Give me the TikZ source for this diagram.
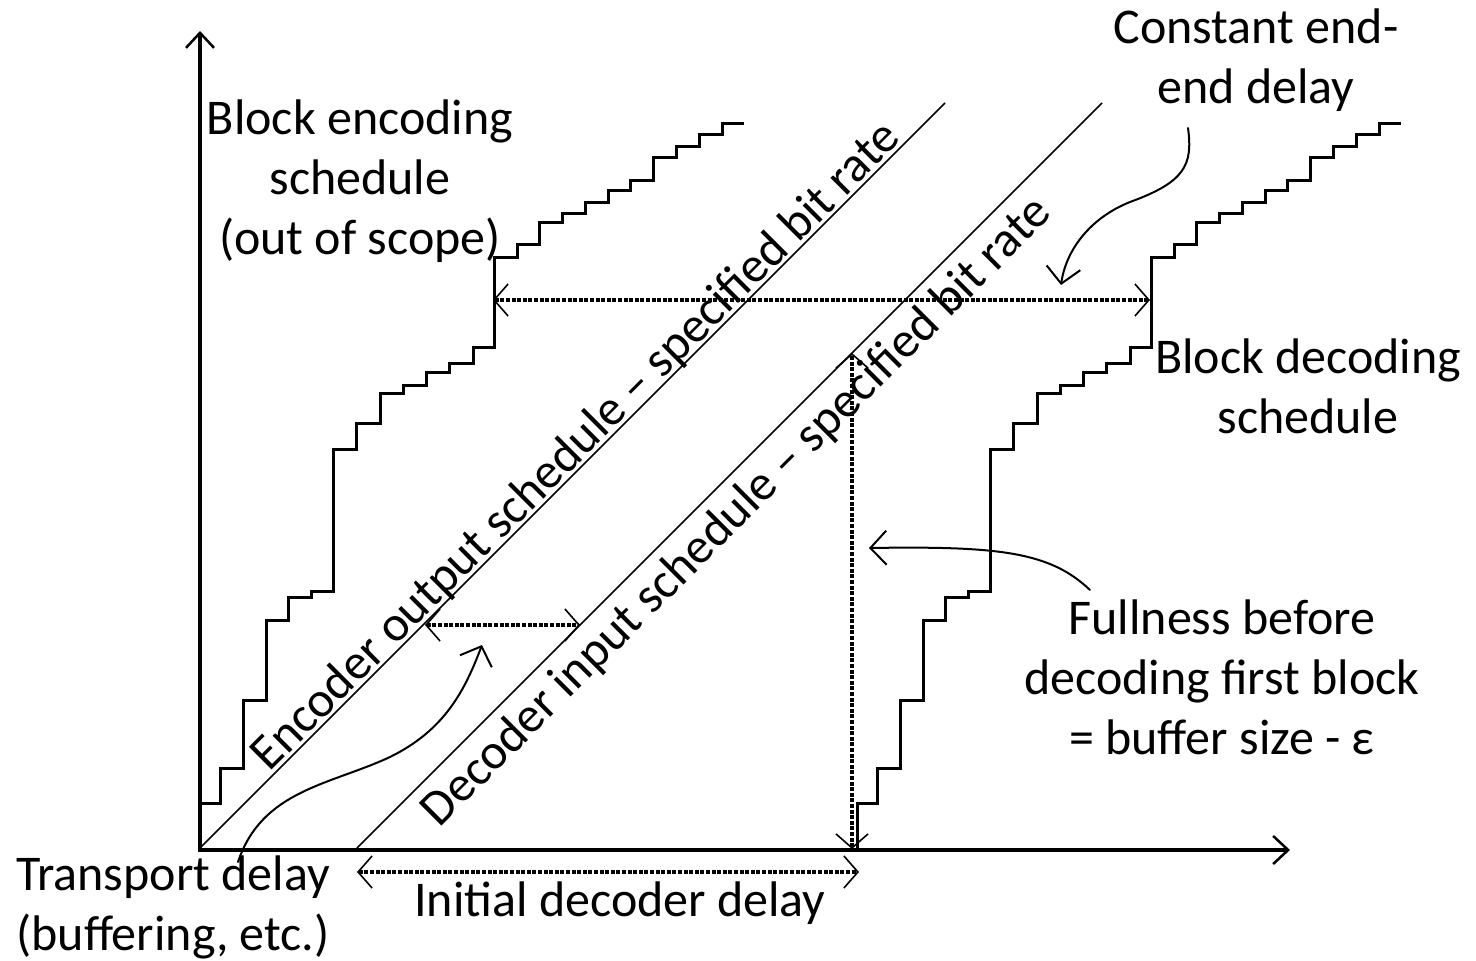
\documentclass[tikz,border=0pt]{standalone}
\usepackage{fontspec}
\setmainfont{Carlito}
\usetikzlibrary{arrows.meta}
\begin{document}
\begin{tikzpicture}[x=1pt,y=-1pt,
  lbl/.style={inner sep=0pt, align=center, font=\fontsize{50}{60}\selectfont},
  axis/.style={line width=4pt, -{Straight Barb[length=15pt,width=28pt,line width=2.5pt]}},
  stair/.style={line width=3pt, line join=miter},
  diag/.style={line width=1.6pt},
  dimtip/.style={{Straight Barb[length=14pt,width=32pt,line width=1.6pt]}-{Straight Barb[length=14pt,width=32pt,line width=1.6pt]}},
  dimline/.style={dimtip, line width=3.2pt, dash pattern=on 4pt off 1.6pt},
  callout/.style={line width=2pt, line cap=round, -{Straight Barb[length=16pt,width=34pt,line width=2pt]}},
]
\useasboundingbox (0,0) rectangle (1476,961);
% axes
\coordinate (ybot) at (200,852);
\coordinate (ytop) at (200,31);
\coordinate (xleft) at (198,850);
\coordinate (xright) at (1290,850);
\draw[axis] (ybot) -- (ytop);
\draw[axis] (xleft) -- (xright);
% rate lines
\coordinate (enc0) at (200,848);
\coordinate (enc1) at (945,103);
\coordinate (dec0) at (357,848);
\coordinate (dec1) at (1102,103);
\draw[diag] (enc0) -- (enc1);
\draw[diag] (dec0) -- (dec1);
% block encoding schedule
\draw[stair] (200,803) -| (220,768) -| (243,700) -| (266,620) -| (288,597) -| (311,591)
  -| (333,449) -| (356,423) -| (380,393) -| (403,385) -| (426,372) -| (449,363)
  -| (473,347) -| (494,257) -| (517,244) -| (539,222) -| (562,213) -| (585,202)
  -| (608,190) -| (630,180) -| (653,157) -| (676,146) -| (699,134) -| (722,123) -- (744,123);
% block decoding schedule
\begin{scope}[xshift=657pt]
\draw[stair] (200,850) -- (200,803) -| (220,768) -| (243,700) -| (266,620) -| (288,597) -| (311,591)
  -| (333,449) -| (356,423) -| (380,393) -| (403,385) -| (426,372) -| (449,363)
  -| (473,347) -| (494,257) -| (517,244) -| (539,222) -| (562,213) -| (585,202)
  -| (608,190) -| (630,180) -| (653,157) -| (676,146) -| (699,134) -| (722,123) -- (744,123);
\end{scope}
% dimension arrows
\coordinate (cl) at (493,300); \coordinate (cr) at (1150,300);
\draw[dimline] (cl) -- (cr);
\coordinate (vt) at (852,353); \coordinate (vb) at (852,849);
\draw[dimline] (vb) -- (vt);
\coordinate (tl) at (425,625); \coordinate (tr) at (580,625);
\draw[dimline] (tl) -- (tr);
\coordinate (il) at (357,872); \coordinate (ir) at (859,872);
\draw[dimline] (il) -- (ir);
% labels
\node[lbl] (enclbl) at (360,181) {Block encoding\\schedule\\(out of scope)};
\node[lbl] (cee) at (1256,60) {Constant end-\\end delay};
\node[lbl] (declbl) at (1308,386) {Block decoding\\schedule};
\node[lbl] (full) at (1222,677) {Fullness before\\decoding first block\\= buffer size - ε};
\node[lbl] (tdel) at (173,907) {Transport delay\\(buffering, etc.)};
\node[lbl] (idel) at (620,903) {Initial decoder delay};
\node[lbl, rotate=45, anchor=south] (eos) at (592,462) {Encoder output schedule – specified bit rate};
\node[lbl, rotate=45, anchor=north] (dis) at (722,497) {Decoder input schedule – specified bit rate};
% callouts
\coordinate (tdA) at (238,862);
\coordinate (tdB) at (482,645);
\draw[callout] (tdA) .. controls (262,790) and (330,785) .. (390,757) .. controls (445,730) and (465,690) .. (tdB);
\coordinate (ceA) at (1188,128);
\coordinate (ceB) at (1061,285);
\draw[callout] (ceA) .. controls (1193,165) and (1185,182) .. (1130,202) .. controls (1090,218) and (1066,250) .. (ceB);
\coordinate (fuA) at (1090,590);
\coordinate (fuB) at (869,548);
\draw[callout] (fuA) .. controls (1050,552) and (1000,546) .. (fuB);
\end{tikzpicture}
\end{document}
